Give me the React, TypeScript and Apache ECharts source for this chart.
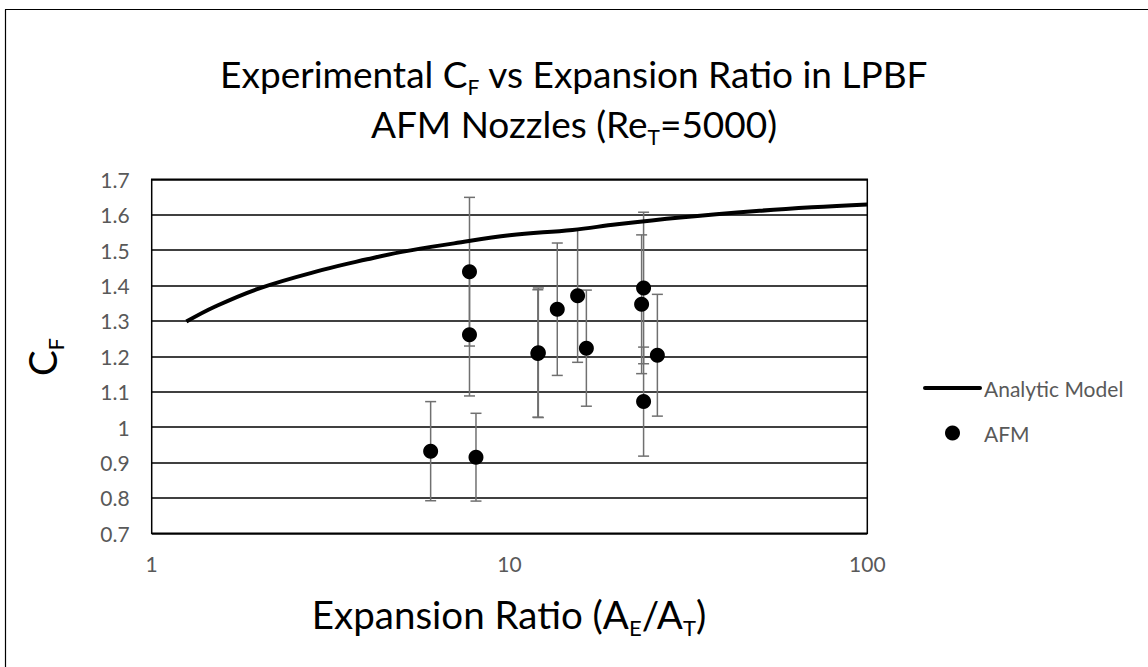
import React, { useEffect, useRef } from 'react';
import * as echarts from 'echarts';

// Analytic model curve
const modelX = [1.25, 1.5, 2, 3, 4, 5, 7, 10, 15, 20, 30, 50, 70, 100];
const modelY = [1.298, 1.34, 1.392, 1.444, 1.474, 1.495, 1.519, 1.542, 1.557, 1.573, 1.592, 1.611, 1.621, 1.629];

// AFM experimental points with symmetric error bars
const afmX = [6.02, 7.73, 7.73, 8.06, 12.04, 12.0, 13.6, 15.5, 16.4, 23.7, 23.4, 23.7, 25.9];
const afmY = [0.932, 1.439, 1.261, 0.915, 1.21, 1.208, 1.333, 1.371, 1.223, 1.393, 1.347, 1.072, 1.203];
const afmErr = [0.14, 0.21, 0.173, 0.124, 0.183, 0.18, 0.187, 0.188, 0.164, 0.214, 0.196, 0.154, 0.172];

const legendNames = ['Analytic Model', 'AFM'];

const xMin = 1;
const xMax = 100;
const yMin = 0.7;
const yMax = 1.7;
const yStep = 0.1;

const FONT = 'Lato';

export default function App() {
  const ref = useRef<HTMLDivElement>(null);
  useEffect(() => {
    document.body.style.margin = '0';
    const chart = echarts.init(ref.current as HTMLDivElement, null, { renderer: 'svg' });
    const modelData = modelX.map((x, i) => [x, modelY[i]]);
    const afmData = afmX.map((x, i) => [x, afmY[i]]);
    const errData = afmX.map((x, i) => [x, afmY[i] - afmErr[i], afmY[i] + afmErr[i]]);
    const errColor = '#707070';
    const bigRich = (size: number, lh: number) => {
      const sub = Math.round(size * 0.58);
      return {
        a: { fontFamily: FONT, fontSize: size, lineHeight: lh, fill: '#000', color: '#000' },
        b: { fontFamily: FONT, fontSize: sub, lineHeight: sub, padding: [25, 0, -1, 0], fill: '#000', color: '#000' },
      };
    };
    chart.setOption({
      animation: false,
      backgroundColor: '#ffffff',
      grid: {
        left: 151.7,
        right: 280.7,
        top: 179.3,
        bottom: 133.7,
        show: true,
        borderColor: '#000',
        borderWidth: 1.5,
        containLabel: false,
      },
      xAxis: {
        type: 'log',
        logBase: 10,
        min: xMin,
        max: xMax,
        axisLine: { show: false },
        axisTick: { show: false },
        splitLine: { show: false },
        axisLabel: { color: '#595959', fontFamily: FONT, fontSize: 21, margin: 20 },
      },
      yAxis: {
        type: 'value',
        min: yMin,
        max: yMax,
        interval: yStep,
        axisLine: { show: false },
        axisTick: { show: false },
        splitLine: { show: true, lineStyle: { color: '#000', width: 1.5 } },
        axisLabel: {
          color: '#595959',
          fontFamily: FONT,
          fontSize: 21,
          margin: 22,
          formatter: (v: number) => String(parseFloat(v.toFixed(1))),
        },
      },
      series: [
        {
          name: legendNames[0],
          type: 'line',
          data: modelData,
          smooth: 0.4,
          symbol: 'none',
          showSymbol: false,
          lineStyle: { color: '#000', width: 4 },
          itemStyle: { color: '#000' },
          z: 3,
        },
        {
          name: 'err',
          type: 'custom',
          data: errData,
          encode: { x: 0, y: [1, 2] },
          z: 2,
          renderItem: (params: any, api: any) => {
            const x = api.value(0);
            const lo = api.coord([x, api.value(1)]);
            const hi = api.coord([x, api.value(2)]);
            const cw = 5.5;
            const st = { stroke: errColor, lineWidth: 1.5 };
            return {
              type: 'group',
              children: [
                { type: 'line', shape: { x1: hi[0], y1: hi[1], x2: lo[0], y2: lo[1] }, style: st },
                { type: 'line', shape: { x1: hi[0] - cw, y1: hi[1], x2: hi[0] + cw, y2: hi[1] }, style: st },
                { type: 'line', shape: { x1: lo[0] - cw, y1: lo[1], x2: lo[0] + cw, y2: lo[1] }, style: st },
              ],
            };
          },
        },
        {
          name: legendNames[1],
          type: 'scatter',
          data: afmData,
          symbol: 'circle',
          symbolSize: 15,
          itemStyle: { color: '#000', opacity: 1 },
          z: 4,
        },
      ],
      graphic: [
        {
          type: 'line',
          shape: { x1: 5.5, y1: 9.5, x2: 5.5, y2: 667 },
          style: { stroke: '#000', lineWidth: 1.2 },
        },
        {
          type: 'line',
          shape: { x1: 5, y1: 9.5, x2: 1148, y2: 9.5 },
          style: { stroke: '#000', lineWidth: 1.2 },
        },
        // legend
        {
          type: 'line',
          shape: { x1: 925, y1: 388, x2: 980, y2: 388 },
          style: { stroke: '#000', lineWidth: 4, lineCap: 'round' },
        },
        {
          type: 'text',
          x: 984,
          y: 388,
          style: { text: legendNames[0], fontFamily: FONT, fontSize: 21, fill: '#595959', verticalAlign: 'middle', align: 'left' },
        },
        {
          type: 'circle',
          shape: { cx: 952.5, cy: 433, r: 7.5 },
          style: { fill: '#000' },
        },
        {
          type: 'text',
          x: 984,
          y: 433,
          style: { text: legendNames[1], fontFamily: FONT, fontSize: 21, fill: '#595959', verticalAlign: 'middle', align: 'left' },
        },
        {
          type: 'text',
          x: 574,
          y: 98,
          style: {
            text:
              '{a|Experimental C}{b|F}{a| vs Expansion Ratio in LPBF}\n{a|AFM Nozzles (Re}{b|T}{a|=5000)}',
            align: 'center',
            verticalAlign: 'middle',
            rich: bigRich(37, 50),
          },
        },
        {
          type: 'text',
          x: 509,
          y: 614,
          style: {
            text: '{a|Expansion Ratio (A}{b|E}{a|/A}{b|T}{a|)}',
            align: 'center',
            verticalAlign: 'middle',
            rich: bigRich(38.5, 44),
          },
        },
        {
          type: 'text',
          x: 42,
          y: 357,
          rotation: Math.PI / 2,
          style: {
            text: '{a|C}{b|F}',
            align: 'center',
            verticalAlign: 'middle',
            rich: bigRich(38.5, 44),
          },
        },
      ],
    });
    return () => chart.dispose();
  }, []);
  return <div ref={ref} style={{ position: 'absolute', left: 0, top: 0, width: 1148, height: 667 }} />;
}
